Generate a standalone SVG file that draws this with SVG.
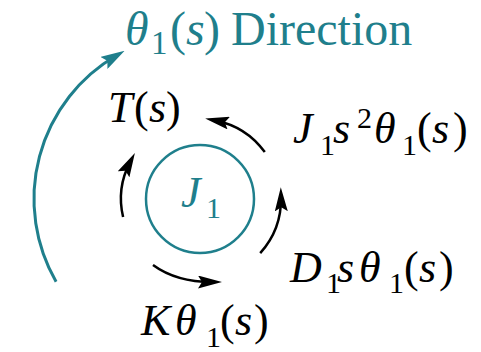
<svg xmlns="http://www.w3.org/2000/svg" width="481" height="352" viewBox="0 0 481 352">
<defs>
<marker id="ahB" markerUnits="userSpaceOnUse" viewBox="0 0 24 13" refX="14" refY="6.5" markerWidth="24" markerHeight="13" orient="auto">
<path d="M0,0 L24,6.5 L0,13 L4,6.5 Z" fill="#000"/>
</marker>
<marker id="ahT" markerUnits="userSpaceOnUse" viewBox="0 0 24 14" refX="14" refY="7" markerWidth="24" markerHeight="14" orient="auto">
<path d="M0,0 L24,7 L0,14 L4,7 Z" fill="#1f7f8c"/>
</marker>
</defs>
<g id="connectors" fill="none">
<path stroke="#1f7f8c" stroke-width="3" d="M56.1,281.8 A166,166 0 0 1 116,55.8" marker-end="url(#ahT)"/>
<g stroke="#000" stroke-width="2.5">
<path d="M123.1,217 A79,79 0 0 1 130.2,161.9" marker-end="url(#ahB)"/>
<path d="M264.8,152.1 A80,80 0 0 0 215,120.4" marker-end="url(#ahB)"/>
<path d="M260.2,253.2 A81,81 0 0 0 281,197.3" marker-end="url(#ahB)"/>
<path d="M153,265 C168,276 188,282 212,282" marker-end="url(#ahB)"/>
</g>
</g>
<g id="node-J1">
<circle cx="200" cy="199" r="54" fill="none" stroke="#1f7f8c" stroke-width="2.5"/>
<text x="181" y="207" style="font-family:'Liberation Serif','Times New Roman',serif;font-size:44px;font-style:italic;fill:#1f7f8c">J</text>
<text x="206" y="218" style="font-family:'Liberation Serif','Times New Roman',serif;font-size:30px;font-style:normal;fill:#1f7f8c">1</text>
</g>
<g id="label-direction">
<text x="125" y="45" style="font-family:'Liberation Serif','Times New Roman',serif;font-size:48px;font-style:italic;fill:#1f7f8c">θ</text>
<text x="151" y="54" style="font-family:'Liberation Serif','Times New Roman',serif;font-size:33px;font-style:normal;fill:#1f7f8c">1</text>
<text x="170" y="45" style="font-family:'Liberation Serif','Times New Roman',serif;font-size:48px;font-style:normal;fill:#1f7f8c">(</text>
<text x="186" y="45" style="font-family:'Liberation Serif','Times New Roman',serif;font-size:48px;font-style:italic;fill:#1f7f8c">s</text>
<text x="204" y="45" style="font-family:'Liberation Serif','Times New Roman',serif;font-size:48px;font-style:normal;fill:#1f7f8c">)</text>
<text x="231" y="45" style="font-family:'Liberation Serif','Times New Roman',serif;font-size:48px;font-style:normal;fill:#1f7f8c">Direction</text>
</g>
<g id="label-T">
<text x="108" y="122" style="font-family:'Liberation Serif','Times New Roman',serif;font-size:44px;font-style:italic;fill:#000">T</text>
<text x="134" y="122" style="font-family:'Liberation Serif','Times New Roman',serif;font-size:44px;font-style:normal;fill:#000">(</text>
<text x="149" y="122" style="font-family:'Liberation Serif','Times New Roman',serif;font-size:44px;font-style:italic;fill:#000">s</text>
<text x="166" y="122" style="font-family:'Liberation Serif','Times New Roman',serif;font-size:44px;font-style:normal;fill:#000">)</text>
</g>
<g id="label-J1s2">
<text x="293" y="143" style="font-family:'Liberation Serif','Times New Roman',serif;font-size:44px;font-style:italic;fill:#000">J</text>
<text x="320" y="155" style="font-family:'Liberation Serif','Times New Roman',serif;font-size:30px;font-style:normal;fill:#000">1</text>
<text x="333" y="143" style="font-family:'Liberation Serif','Times New Roman',serif;font-size:44px;font-style:italic;fill:#000">s</text>
<text x="357" y="128" style="font-family:'Liberation Serif','Times New Roman',serif;font-size:30px;font-style:normal;fill:#000">2</text>
<text x="374" y="143" style="font-family:'Liberation Serif','Times New Roman',serif;font-size:44px;font-style:italic;fill:#000">θ</text>
<text x="402" y="155" style="font-family:'Liberation Serif','Times New Roman',serif;font-size:30px;font-style:normal;fill:#000">1</text>
<text x="417" y="143" style="font-family:'Liberation Serif','Times New Roman',serif;font-size:44px;font-style:normal;fill:#000">(</text>
<text x="432" y="143" style="font-family:'Liberation Serif','Times New Roman',serif;font-size:44px;font-style:italic;fill:#000">s</text>
<text x="453" y="143" style="font-family:'Liberation Serif','Times New Roman',serif;font-size:44px;font-style:normal;fill:#000">)</text>
</g>
<g id="label-D1s">
<text x="290" y="282" style="font-family:'Liberation Serif','Times New Roman',serif;font-size:44px;font-style:italic;fill:#000">D</text>
<text x="326" y="293" style="font-family:'Liberation Serif','Times New Roman',serif;font-size:30px;font-style:normal;fill:#000">1</text>
<text x="337" y="282" style="font-family:'Liberation Serif','Times New Roman',serif;font-size:44px;font-style:italic;fill:#000">s</text>
<text x="359" y="282" style="font-family:'Liberation Serif','Times New Roman',serif;font-size:44px;font-style:italic;fill:#000">θ</text>
<text x="389" y="293" style="font-family:'Liberation Serif','Times New Roman',serif;font-size:30px;font-style:normal;fill:#000">1</text>
<text x="404" y="282" style="font-family:'Liberation Serif','Times New Roman',serif;font-size:44px;font-style:normal;fill:#000">(</text>
<text x="419" y="282" style="font-family:'Liberation Serif','Times New Roman',serif;font-size:44px;font-style:italic;fill:#000">s</text>
<text x="439" y="282" style="font-family:'Liberation Serif','Times New Roman',serif;font-size:44px;font-style:normal;fill:#000">)</text>
</g>
<g id="label-K">
<text x="141" y="335" style="font-family:'Liberation Serif','Times New Roman',serif;font-size:44px;font-style:italic;fill:#000">K</text>
<text x="175" y="335" style="font-family:'Liberation Serif','Times New Roman',serif;font-size:44px;font-style:italic;fill:#000">θ</text>
<text x="206" y="347" style="font-family:'Liberation Serif','Times New Roman',serif;font-size:30px;font-style:normal;fill:#000">1</text>
<text x="220" y="335" style="font-family:'Liberation Serif','Times New Roman',serif;font-size:44px;font-style:normal;fill:#000">(</text>
<text x="235" y="335" style="font-family:'Liberation Serif','Times New Roman',serif;font-size:44px;font-style:italic;fill:#000">s</text>
<text x="254" y="335" style="font-family:'Liberation Serif','Times New Roman',serif;font-size:44px;font-style:normal;fill:#000">)</text>
</g>
</svg>
